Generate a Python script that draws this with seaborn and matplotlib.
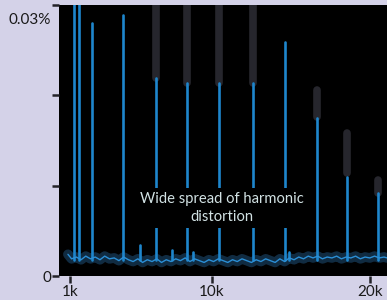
import matplotlib
matplotlib.use("Agg")
import matplotlib.pyplot as plt
import matplotlib.transforms as mtransforms
import seaborn as sns
import pandas as pd

# ---- data (frequency in Hz, level in %) ----
noise_freq = [870, 1100, 1400, 1700, 2000, 2300, 2600, 2900, 3200, 3500,
              3800, 4100, 4400, 4700, 5000, 5300, 5600, 5900, 6200, 6500,
              6800, 7100, 7400, 7700, 8000, 8300, 8600, 8900, 9200, 9500,
              9800, 10100, 10400, 10700, 11000, 11300, 11600, 11900, 12200, 12500,
              12800, 13100, 13400, 13700, 14000, 14300, 14600, 14900, 15200, 15500,
              15800, 16100, 16400, 16700, 17000, 17300, 17600, 17900, 18200, 18500,
              18800, 19100, 19400, 19700, 20000, 20300, 20600, 20900, 21100]
noise_level = [0.0024, 0.0019, 0.0021, 0.0018, 0.0022, 0.0019, 0.0021, 0.0018, 0.0022, 0.0019,
               0.0020, 0.0017, 0.0021, 0.0018, 0.0016, 0.0019, 0.0015, 0.0018, 0.0016, 0.0019,
               0.0015, 0.0018, 0.0016, 0.0019, 0.0017, 0.0020, 0.0016, 0.0019, 0.0017, 0.0015,
               0.0018, 0.0016, 0.0019, 0.0017, 0.0015, 0.0018, 0.0016, 0.0019, 0.0017, 0.0015,
               0.0018, 0.0016, 0.0019, 0.0017, 0.0015, 0.0019, 0.0016, 0.0020, 0.0018, 0.0021,
               0.0019, 0.0022, 0.0020, 0.0022, 0.0019, 0.0021, 0.0020, 0.0022, 0.0019, 0.0021,
               0.0020, 0.0022, 0.0019, 0.0021, 0.0020, 0.0022, 0.0020, 0.0021, 0.0020]

peak_freq = [1250, 1570, 2390, 4360, 5440, 6450, 7460, 8410, 8800, 10440,
             12600, 14620, 14900, 16650, 18550, 20520]
peak_level = [0.0310, 0.0310, 0.0280, 0.0289, 0.0034, 0.0219, 0.0029, 0.0214, 0.0027, 0.0214,
              0.0214, 0.0259, 0.0027, 0.0175, 0.0110, 0.0092]
peak_base = 0.0018

ghost_freq = [6450, 8410, 10440, 12600, 16650, 18550, 20520]
ghost_top = [0.0300, 0.0300, 0.0300, 0.0300, 0.0206, 0.0158, 0.0106]
ghost_bottom = [0.0219, 0.0214, 0.0214, 0.0214, 0.0176, 0.0114, 0.0092]

x_ticks = [1000, 10000, 20000]
x_ticklabels = ["1k", "10k", "20k"]
y_ticks = [0, 0.01, 0.02, 0.03]
y_ticklabels = ["0", "", "", "0.03%"]
annotation = "Wide spread of harmonic\ndistortion"

# ---- long-form tables ----
spike_rows = []
for i, (f, lv) in enumerate(zip(peak_freq, peak_level)):
    spike_rows.append({"peak": i, "freq": f, "level": peak_base})
    spike_rows.append({"peak": i, "freq": f, "level": lv})
spike_df = pd.DataFrame(spike_rows)

ghost_rows = []
for i, (f, lo, hi) in enumerate(zip(ghost_freq, ghost_bottom, ghost_top)):
    ghost_rows.append({"peak": i, "freq": f, "level": lo})
    ghost_rows.append({"peak": i, "freq": f, "level": hi})
ghost_df = pd.DataFrame(ghost_rows)

noise_df = pd.DataFrame({"freq": noise_freq, "level": noise_level})

# ---- style ----
sns.set_theme(style="dark")
bg = "#d4d2e8"
plt.rcParams["font.family"] = ["Lato", "DejaVu Sans"]

fig = plt.figure(figsize=(3.87, 3.0), dpi=100, facecolor=bg)
ax = fig.add_axes([59 / 387, 24 / 300, 1 - 59 / 387, 271 / 300])
ax.set_facecolor("black")
for s in ax.spines.values():
    s.set_visible(False)

sns.lineplot(data=ghost_df, x="freq", y="level", units="peak", estimator=None,
             sort=False, color="#26262d", lw=5.5, ax=ax, zorder=1)
sns.lineplot(data=noise_df, x="freq", y="level", color="#1f4f78", lw=7,
             alpha=0.55, ax=ax, zorder=2)
sns.lineplot(data=spike_df, x="freq", y="level", units="peak", estimator=None,
             sort=False, color="#1e86cc", lw=1.9, ax=ax, zorder=3)
sns.lineplot(data=noise_df, x="freq", y="level", color="#2b8fd6", lw=1.0,
             ax=ax, zorder=4)

ax.text(10630, 0.00753, annotation, ha="center", va="center", color="#d2e2e4",
        fontsize=10.6, linespacing=1.3, zorder=10,
        bbox=dict(facecolor="black", edgecolor="none", boxstyle="square,pad=0.3"))

ax.set_xlim(303, 21090)
ax.set_ylim(0, 0.03)
ax.set_xticks(x_ticks)
ax.set_xticklabels(x_ticklabels)
ax.set_yticks(y_ticks)
ax.set_yticklabels(y_ticklabels)
ax.set_xlabel("")
ax.set_ylabel("")
ax.grid(False)
ax.tick_params(axis="both", which="major", direction="out", length=5, width=1.8,
               color="#222228", labelcolor="#1a1a1a", bottom=True, left=True)
ax.tick_params(axis="y", pad=0.5, labelsize=11)
ax.tick_params(axis="x", pad=1.5, labelsize=11)

for lab in ax.get_yticklabels():
    if lab.get_text() == "0.03%":
        lab.set_transform(lab.get_transform() +
                          mtransforms.ScaledTranslation(0, -13 / 100, fig.dpi_scale_trans))

fig.savefig("out.png", dpi=100, facecolor=bg)
